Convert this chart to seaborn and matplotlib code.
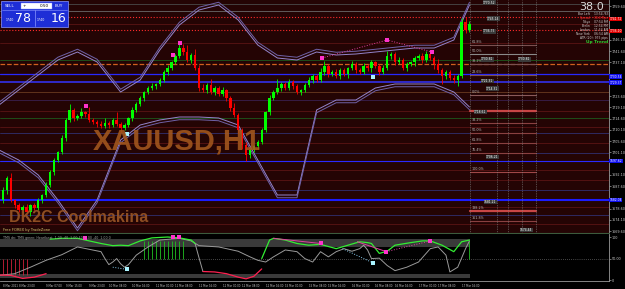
import numpy as np
import pandas as pd
import matplotlib
matplotlib.use("Agg")
import matplotlib.pyplot as plt
from matplotlib.patches import Rectangle
import seaborn as sns

# ---------------- data ----------------
first_open = 1682.0
closes = [
    1686.0, 1690.8, 1682.0, 1680.0, 1678.0, 1679.2, 1677.2, 1680.0, 1678.8, 1682.0,
    1684.0, 1688.0, 1693.2, 1698.0, 1701.2, 1706.8, 1714.0, 1718.0, 1714.8, 1715.6,
    1717.2, 1716.4, 1714.0, 1713.2, 1712.4, 1711.6, 1712.8, 1712.0, 1714.0, 1712.4,
    1710.8, 1712.0, 1714.8, 1718.0, 1720.4, 1722.8, 1725.2, 1726.8, 1727.6, 1728.4,
    1730.0, 1733.2, 1734.8, 1737.2, 1739.6, 1742.8, 1741.2, 1738.0, 1740.0, 1734.8,
    1726.8, 1726.0, 1728.0, 1725.2, 1726.8, 1724.4, 1726.0, 1722.8, 1718.8, 1716.0,
    1710.0, 1704.0, 1700.0, 1702.0, 1703.6, 1705.2, 1710.0, 1717.2, 1722.8, 1725.2,
    1726.8, 1728.4, 1726.8, 1729.2, 1727.6, 1725.2, 1726.0, 1728.0, 1730.0, 1731.6,
    1730.0, 1733.2, 1735.6, 1732.4, 1733.2, 1731.6, 1734.0, 1732.4, 1734.8, 1736.4,
    1734.0, 1733.2, 1735.6, 1734.8, 1737.2, 1735.6, 1733.2, 1734.8, 1739.6, 1740.4,
    1737.2, 1738.0, 1734.8, 1736.4, 1737.2, 1738.8, 1739.6, 1738.0, 1740.4, 1738.8,
    1736.4, 1734.0, 1731.6, 1733.2, 1730.8, 1730.0, 1731.6, 1753.2, 1750.0, 1752.4,
]
up_wick = [
    1.2, 0.8, 2.0, 0.6, 1.0, 0.8, 1.4, 0.6, 1.0, 0.8,
    0.6, 1.2, 0.8, 1.0, 0.6, 1.4, 0.8, 2.4, 1.0, 0.8,
    1.6, 0.6, 2.8, 1.0, 0.8, 1.2, 2.0, 0.8, 1.0, 3.2,
    0.8, 1.0, 0.6, 1.2, 0.8, 1.0, 0.6, 0.8, 1.4, 0.6,
    0.8, 1.0, 1.2, 0.6, 0.8, 2.0, 1.6, 3.0, 1.0, 2.4,
    1.2, 1.6, 0.8, 2.4, 1.0, 0.8, 1.2, 0.6, 1.0, 2.0,
    0.8, 1.0, 1.2, 0.8, 0.6, 1.0, 0.8, 0.6, 1.2, 1.0,
    3.6, 0.8, 1.0, 1.4, 0.8, 1.0, 0.6, 0.8, 1.2, 1.0,
    0.8, 1.6, 2.0, 0.8, 1.0, 1.2, 0.8, 1.0, 0.6, 1.4,
    0.8, 1.0, 1.2, 0.8, 1.0, 0.6, 0.8, 1.2, 2.0, 1.0,
    0.8, 1.2, 1.0, 0.8, 0.6, 1.0, 0.8, 1.2, 1.4, 0.8,
    1.0, 2.0, 0.8, 1.0, 0.8, 1.2, 0.8, 1.6, 2.0, 1.2,
]
down_wick = [
    1.0, 1.4, 0.8, 1.2, 0.6, 1.0, 0.8, 1.6, 0.8, 0.6,
    1.0, 0.8, 0.6, 1.2, 0.8, 0.6, 1.0, 0.8, 1.2, 0.6,
    0.8, 1.0, 0.6, 0.8, 1.2, 0.6, 0.8, 1.0, 0.6, 0.8,
    1.4, 0.6, 0.8, 1.0, 0.6, 0.8, 1.0, 0.6, 0.8, 1.0,
    0.6, 0.8, 1.0, 0.6, 0.8, 0.6, 1.0, 0.8, 1.2, 0.8,
    1.0, 0.8, 1.2, 0.6, 1.0, 0.8, 0.6, 1.0, 1.2, 0.8,
    1.2, 1.6, 2.4, 1.0, 0.8, 1.2, 0.6, 0.8, 1.0, 0.6,
    0.8, 1.0, 0.6, 0.8, 1.2, 0.6, 1.0, 0.8, 0.6, 1.0,
    0.8, 0.6, 1.0, 1.2, 0.8, 0.6, 1.0, 0.8, 1.4, 0.6,
    1.0, 0.8, 0.6, 1.0, 1.6, 0.8, 1.0, 0.6, 0.8, 1.0,
    1.2, 0.8, 0.6, 1.0, 0.8, 1.4, 0.8, 1.0, 0.6, 0.8,
    2.0, 1.2, 3.2, 1.0, 0.8, 1.2, 2.4, 0.8, 1.0, 0.6,
]

band_x = [-1, 4, 9, 14, 19, 24, 30, 35, 40, 45, 50, 55, 60, 65, 70, 75, 80, 85,
          90, 95, 100, 105, 110, 115, 119]
upper_band = [1720.0, 1726.0, 1732.0, 1738.0, 1741.2, 1737.2, 1725.2, 1730.0,
              1742.0, 1752.0, 1758.0, 1760.0, 1754.0, 1744.0, 1738.8, 1738.0,
              1741.2, 1740.0, 1740.4, 1741.2, 1742.0, 1742.8, 1742.8, 1746.0, 1760.0]
lower_band = [1702.0, 1698.0, 1692.0, 1682.0, 1670.8, 1682.0, 1706.0, 1712.0,
              1714.0, 1715.2, 1715.2, 1714.8, 1712.0, 1698.0, 1684.0, 1684.0,
              1718.0, 1722.0, 1722.0, 1726.8, 1728.4, 1728.4, 1728.4, 1725.2, 1719.2]

level_prices = [1760.4, 1757.6, 1755.2, 1752.4, 1750.0, 1744.8, 1738.0, 1736.4,
                1732.4, 1729.2, 1725.2, 1722.0, 1717.6, 1714.8, 1711.2, 1708.8,
                1704.8, 1700.8, 1697.6, 1694.0, 1690.0, 1686.0, 1682.0, 1679.2,
                1676.0, 1672.4]
level_colors = ['#4a4a4a', '#6a6a6a', '#ff2a2a', '#5a1414', '#ff2a2a', '#5a1414',
                '#1d5a1d', '#d0601e', '#2828ff', '#3434ff', '#6a3a20', '#3a2050',
                '#5a1414', '#1d5a1d', '#5a1414', '#303070', '#5a1414', '#303070',
                '#2a2aff', '#5a1414', '#5a1414', '#303070', '#1c1cff', '#5a1414',
                '#303070', '#5a1414']
level_styles = ['-', '-', ':', '-', ':', '-', '-', '--', '-', '-', '-', '-', '-',
                '-', '-', '-', '-', '-', '-', '-', '-', '-', '-', '-', '-', '-']
level_widths = [0.6, 0.6, 0.8, 0.6, 0.8, 0.6, 0.6, 0.9, 0.9, 1.1, 0.6, 0.6, 0.6,
                0.6, 0.6, 0.6, 0.6, 0.6, 0.8, 0.6, 0.6, 0.6, 1.5, 0.6, 0.6, 0.6]

fib_prices = [1744.0, 1740.4, 1736.4, 1732.0, 1724.0, 1717.6, 1712.8, 1708.8,
              1704.8, 1700.8, 1693.2, 1677.6, 1673.6]
fib_labels = ["61.8%", "50.0%", "38.2%", "23.6%", "0.0%", "", "38.2%", "50.0%",
              "61.8%", "76.4%", "100.0%", "138.2%", "161.8%"]
fib_colors = ['#7a5050', '#8a8a8a', '#7a5050', '#7a5050', '#8a5a5a', '#c84646',
              '#8a4040', '#8a4040', '#8a4040', '#8a4040', '#a04848', '#c84646', '#8a4040']

price_tags = [(1761.0, "1770.52", 483), (1754.6, "1745.14", 487), (1749.4, "1736.75", 483),
              (1738.2, "1730.81", 481), (1738.2, "1730.81", 518), (1729.6, "1721.31", 481),
              (1726.6, "1714.31", 486), (1717.2, "1718.61", 474), (1699.2, "1706.21", 486),
              (1681.2, "1681.21", 484), (1670.0, "1674.44", 520)]
right_boxes = [(1754.4, "1741.72", '#e00000'), (1749.6, "1736.10", '#e00000'),
               (1731.4, "1730.54", '#1010f0'), (1729.0, "1729.37", '#1010f0'),
               (1697.6, "1697.62", '#1010f0'), (1682.0, "1682.04", '#1010f0')]

# axis labels not hidden behind the coloured price boxes
yticks = [1669.6, 1674.1, 1678.6, 1687.6, 1692.1, 1701.1, 1705.6,
          1710.1, 1714.6, 1719.1, 1723.6, 1737.1, 1741.6, 1746.1, 1759.6]

time_bars = [0, 4, 11, 16, 22, 27, 33, 39, 44, 50, 56, 61, 67, 72, 78, 83, 89,
             95, 100, 106, 111, 117]
time_labels = ["8 Mar 2021", "8 Mar 23:00", "9 Mar 07:00", "9 Mar 15:00",
               "9 Mar 23:00", "10 Mar 08:00", "10 Mar 16:00", "11 Mar 00:00",
               "11 Mar 08:00", "11 Mar 16:00", "12 Mar 00:00", "12 Mar 08:00",
               "12 Mar 16:00", "15 Mar 00:00", "15 Mar 08:00", "15 Mar 16:00",
               "16 Mar 00:00", "16 Mar 08:00", "16 Mar 16:00", "17 Mar 00:00",
               "17 Mar 08:00", "17 Mar 16:00"]

# signal dots on price chart
mag_x = [21.2, 43.4, 45.2, 81.4, 98.0, 109.4]
mag_p = [1719.6, 1740.0, 1744.8, 1738.8, 1746.0, 1741.2]
div_x = [81.4, 98.0, 109.4]
div_p = [1738.8, 1746.0, 1741.2]
cyan_x = [31.6, 94.4]
cyan_p = [1708.4, 1731.2]

# oscillator
grey_x = [-1, 3, 7, 11, 15, 19, 25, 26, 27, 28, 29, 30, 31, 32, 34, 37, 40, 45, 48,
          50, 55, 60, 63, 65, 67, 69, 72, 75, 77, 79, 81, 83, 85, 87, 89, 91, 92,
          93, 94, 96, 98, 100, 103, 106, 109, 111, 113, 114, 116, 118, 119]
grey_v = [11, 15, 30, 46, 59, 77, 66, 50, 36, 42, 50, 38, 30, 36, 58, 77, 93, 97, 91,
          80, 77, 67, 54, 46, 42, 54, 70, 66, 50, 42, 66, 54, 66, 73, 67, 73, 81,
          70, 50, 51, 34, 22, 30, 42, 73, 77, 58, 19, 30, 73, 91]
green1_x = [12, 15, 19, 22, 25, 28, 30, 32, 35, 38, 42, 45, 48, 49]
green1_v = [95, 97, 97, 91, 85, 80, 81, 80, 91, 98, 100, 98, 93, 85]
green2_x = [66, 68, 69, 72, 75, 78, 81, 85, 88, 91, 93, 94, 96, 98, 100, 104, 107,
            109, 112, 115, 117, 119]
green2_v = [50, 93, 97, 93, 85, 81, 83, 73, 81, 89, 87, 85, 62, 67, 81, 87, 91, 91,
            81, 66, 89, 93]
red1_x = [-1, 2, 5, 8, 11]
red1_v = [12, 11, 4, 7, 15]
red2_x = [51, 54, 57, 60, 62, 64, 66]
red2_v = [20, 19, 15, 7, 3, 9, 26]
link_x = [49, 50, 51]
link_v = [85, 52, 20]
osc_mag_x = [21, 43.4, 45, 81, 97.8, 109]
osc_mag_v = [97, 100, 101, 85, 66, 91]
osc_cyan_x = [31.6, 94.4]
osc_cyan_v = [25, 40]
green_hatch = [36, 37, 38, 39, 40, 41, 42, 43, 44, 45, 46, 119]
red_hatch = [0, 1, 2, 3, 4, 5, 6]

# ---------------- style ----------------
sns.set_theme(style="dark")
plt.rcParams['font.family'] = ['DejaVu Sans']

W, H = 625, 289
fig = plt.figure(figsize=(W / 100, H / 100), dpi=100, facecolor='black')

PX = 3.92
x_left = -3 / PX
x_right = (609 - 3) / PX

main_ax = fig.add_axes([0, (H - 233) / H, 609 / W, 233 / H])
low_ax = fig.add_axes([0, (H - 281) / H, 609 / W, 47 / H])
for a in (main_ax, low_ax):
    a.set_xlim(x_left, x_right)
    a.grid(False)
main_ax.set_facecolor('#240404')
low_ax.set_facecolor('#000000')
main_ax.set_ylim(1668.8, 1762.0)
low_ax.set_ylim(-2, 107)

# horizontal levels
for p, c, ls, lw in zip(level_prices, level_colors, level_styles, level_widths):
    main_ax.axhline(p, color=c, ls=ls, lw=lw, zorder=1)

# fibonacci block on the right
fib_x0, fib_x1 = (470 - 3) / PX, (536 - 3) / PX
for p, lab, c in zip(fib_prices, fib_labels, fib_colors):
    lw = 1.6 if c == '#c84646' else 0.8
    main_ax.plot([fib_x0, fib_x1], [p, p], color=c, lw=lw, zorder=2)
    if lab:
        main_ax.text(fib_x0 + 0.4, p + 0.4, lab, color='#b8b8b8', fontsize=2.4,
                     va='bottom', ha='left', zorder=3)
for px in (470, 497, 508, 522, 536):
    main_ax.axvline((px - 3) / PX, color='#8a8a8a', ls=(0, (1, 1.5)), lw=0.5, zorder=2)

# bands (double lines)
bands = pd.DataFrame({'x': band_x, 'up': upper_band, 'lo': lower_band})
for off, col in ((0.0, '#9484cc'), (1.1, '#6f62a8')):
    sns.lineplot(x=bands['x'], y=bands['up'] + off, ax=main_ax, color=col, lw=0.7, zorder=3)
    sns.lineplot(x=bands['x'], y=bands['lo'] - off, ax=main_ax, color=col, lw=0.7, zorder=3)

# candles
n = len(closes)
xs = np.arange(n)
c = np.array(closes)
o = np.array([first_open] + closes[:-1])
hi = np.maximum(o, c) + np.array(up_wick)
lo = np.minimum(o, c) - np.array(down_wick)
cols = np.where(c >= o, '#00ff00', '#ff0000')
main_ax.vlines(xs, lo, hi, colors=cols, lw=0.6, zorder=4)
body = c - o
body = np.where(np.abs(body) < 0.35, 0.35, body)
main_ax.bar(xs, body, bottom=o, width=0.62, color=cols, linewidth=0, zorder=4)

# signal dots / divergence lines
sns.lineplot(x=div_x, y=div_p, ax=main_ax, color='#e040a0', lw=0.7, ls=':', zorder=5)
sns.scatterplot(x=mag_x, y=mag_p, ax=main_ax, color='#ff33cc', s=9, marker='s',
                linewidth=0, zorder=6)
sns.scatterplot(x=cyan_x, y=cyan_p, ax=main_ax, color='#aaf4ff', s=8, marker='s',
                linewidth=0, zorder=6)

# price axis
main_ax.yaxis.tick_right()
main_ax.set_yticks(yticks)
main_ax.set_yticklabels([f"{t:.2f}" for t in yticks])
main_ax.tick_params(axis='y', labelsize=2.4, colors='#c8c8c8', length=1.2, width=0.4, pad=0.6)
main_ax.set_xticks([])
main_ax.set_xlabel('')
main_ax.set_ylabel('')
for s in ('left', 'top'):
    main_ax.spines[s].set_visible(False)
main_ax.spines['right'].set_color('#9a9a9a')
main_ax.spines['right'].set_linewidth(0.6)
main_ax.spines['bottom'].set_color('#3c5a3c')
main_ax.spines['bottom'].set_linewidth(0.8)

# ---------------- oscillator ----------------
end_x = 119.2
low_ax.fill_between([x_left, end_x], 77, 95, color='#3a3a3a', lw=0, zorder=1)
low_ax.fill_between([x_left, end_x], 5, 14, color='#3a3a3a', lw=0, zorder=1)
low_ax.axhline(50, color='#8a8a8a', ls=(0, (1, 2)), lw=0.5, zorder=1)
low_ax.vlines(green_hatch, 50, 90, colors='#22c022', lw=0.6, zorder=2)
low_ax.vlines(red_hatch, 11, 50, colors='#d0203a', lw=0.6, zorder=2)
sns.lineplot(x=grey_x, y=grey_v, ax=low_ax, color='#9a9a9a', lw=0.7, zorder=3)
sns.lineplot(x=link_x, y=link_v, ax=low_ax, color='#9a9a9a', lw=0.7, zorder=3)
sns.lineplot(x=green1_x, y=green1_v, ax=low_ax, color='#33ee33', lw=0.9, zorder=4)
sns.lineplot(x=green2_x, y=green2_v, ax=low_ax, color='#33ee33', lw=0.9, zorder=4)
sns.lineplot(x=red1_x, y=red1_v, ax=low_ax, color='#ff2050', lw=0.9, zorder=4)
sns.lineplot(x=red2_x, y=red2_v, ax=low_ax, color='#ff2050', lw=0.9, zorder=4)
sns.lineplot(x=[69, 81], y=[97, 85], ax=low_ax, color='#e040a0', lw=0.7, zorder=4)
sns.lineplot(x=[90.4, 97.8], y=[89, 66], ax=low_ax, color='#e040a0', lw=0.7, zorder=4)
sns.lineplot(x=[97.8, 109], y=[66, 91], ax=low_ax, color='#e040a0', lw=0.7, ls=':', zorder=4)
sns.lineplot(x=[28, 31.6], y=[30, 25], ax=low_ax, color='#88ccee', lw=0.7, ls=':', zorder=4)
sns.lineplot(x=[86.6, 94.4], y=[73, 40], ax=low_ax, color='#88ccee', lw=0.7, ls=':', zorder=4)
sns.scatterplot(x=osc_mag_x, y=osc_mag_v, ax=low_ax, color='#ff33cc', s=8,
                marker='s', linewidth=0, zorder=5)
sns.scatterplot(x=osc_cyan_x, y=osc_cyan_v, ax=low_ax, color='#aaf4ff', s=8,
                marker='s', linewidth=0, zorder=5)

low_ax.yaxis.tick_right()
low_ax.set_yticks([100, 50, 0])
low_ax.set_yticklabels(["100", "50.00", "0"])
low_ax.tick_params(axis='y', labelsize=2.4, colors='#c8c8c8', length=1.2, width=0.4, pad=0.6)
low_ax.set_xticks(time_bars)
low_ax.set_xticklabels(time_labels, ha='left')
low_ax.tick_params(axis='x', labelsize=1.9, colors='#c8c8c8', length=1.5, width=0.4, pad=1)
low_ax.set_xlabel('')
low_ax.set_ylabel('')
for s in ('left', 'top'):
    low_ax.spines[s].set_visible(False)
for s in ('right', 'bottom'):
    low_ax.spines[s].set_color('#9a9a9a')
    low_ax.spines[s].set_linewidth(0.6)

# ---------------- overlay texts (pixel coords) ----------------
ov = fig.add_axes([0, 0, 1, 1], zorder=10)
ov.set_xlim(0, W)
ov.set_ylim(H, 0)
ov.axis('off')
ov.patch.set_alpha(0)

# trade panel
ov.add_patch(Rectangle((1, 1), 67, 26, facecolor='#1e2ed6', edgecolor='#8c98ff', lw=0.5))
ov.add_patch(Rectangle((21, 2.5), 31, 6, facecolor='white', edgecolor='#8c98ff', lw=0.3))
ov.plot([34.5, 34.5], [10, 26], color='#8c98ff', lw=0.5)
ov.plot([2, 67], [9.5, 9.5], color='#8c98ff', lw=0.4)
ov.text(10, 5.8, "SELL", color='white', fontsize=3, ha='center', va='center')
ov.text(59, 5.8, "BUY", color='white', fontsize=3, ha='center', va='center')
ov.text(49, 5.8, "0.50", color='black', fontsize=3, ha='right', va='center')
ov.text(24, 5.8, "+", color='black', fontsize=3, ha='center', va='center')
ov.text(6, 20, "1740", color='white', fontsize=2.3, ha='left', va='center')
ov.text(31, 19, "78", color='white', fontsize=9, ha='right', va='center')
ov.text(37, 20, "1740", color='white', fontsize=2.3, ha='left', va='center')
ov.text(66, 19, "16", color='white', fontsize=9, ha='right', va='center')

# watermarks
ov.text(177, 142, "XAUUSD,H1", color='#a4581e', alpha=0.88, fontsize=21,
        fontweight='bold', family=['Liberation Sans Narrow', 'Liberation Sans', 'DejaVu Sans'],
        ha='center', va='center')
ov.text(9, 218, "DK2C Coolmakina", color='#9a5626', alpha=0.9, fontsize=11.5,
        fontweight='bold', family=['Liberation Sans Narrow', 'Liberation Sans', 'DejaVu Sans'],
        ha='left', va='center')
ov.text(3, 229.5, "Free FOREX by TradeZone", color='#d8c870', fontsize=2.6,
        ha='left', va='center')
ov.text(3, 238, "TMS dn: TMS green: Heartbeat  1.00 -40  1.00 40  1.00 -40  1.00 0",
        color='#a0a0a0', fontsize=2.3, ha='left', va='center')

# info block
ov.text(604, 7, "38.0", color='#dcdcdc', fontsize=8, ha='right', va='center')
info = [("Bar Left", "13:54 /63", '#d0d0d0'), ("Spread", "38.0 Pips", '#ff3030'),
        ("Tokyo", "07:54 PM", '#d0d0d0'), ("Berlin", "12:54 PM", '#d0d0d0'),
        ("London", "11:54 AM", '#d0d0d0'), ("New York", "06:54 AM", '#d0d0d0')]
for k, (lab, val, col) in enumerate(info):
    yy = 14 + k * 4
    ov.text(590, yy, lab, color=col, fontsize=2.2, ha='right', va='center')
    ov.text(608, yy, val, color=col, fontsize=2.2, ha='right', va='center')
ov.text(608, 38, "ATR (20): 975 pips", color='#d0d0d0', fontsize=2.2, ha='right', va='center')
ov.text(608, 42, "Up Trend", color='#30d030', fontsize=3.2, fontweight='bold',
        ha='right', va='center')

# price tags on chart and axis boxes
for p, lab, px in price_tags:
    main_ax.text((px - 3) / PX, p, lab, color='white', fontsize=2.2, ha='left',
                 va='center', zorder=7,
                 bbox=dict(boxstyle='square,pad=0.1', fc='#3a3a3a', ec='none'))
for p, lab, col in right_boxes:
    main_ax.text(1.001, p, lab, color='white', fontsize=2.2, ha='left', va='center',
                 transform=main_ax.get_yaxis_transform(), zorder=8, clip_on=False,
                 bbox=dict(boxstyle='square,pad=0.12', fc=col, ec='none'))

fig.savefig("out.png", dpi=100, facecolor='black')
